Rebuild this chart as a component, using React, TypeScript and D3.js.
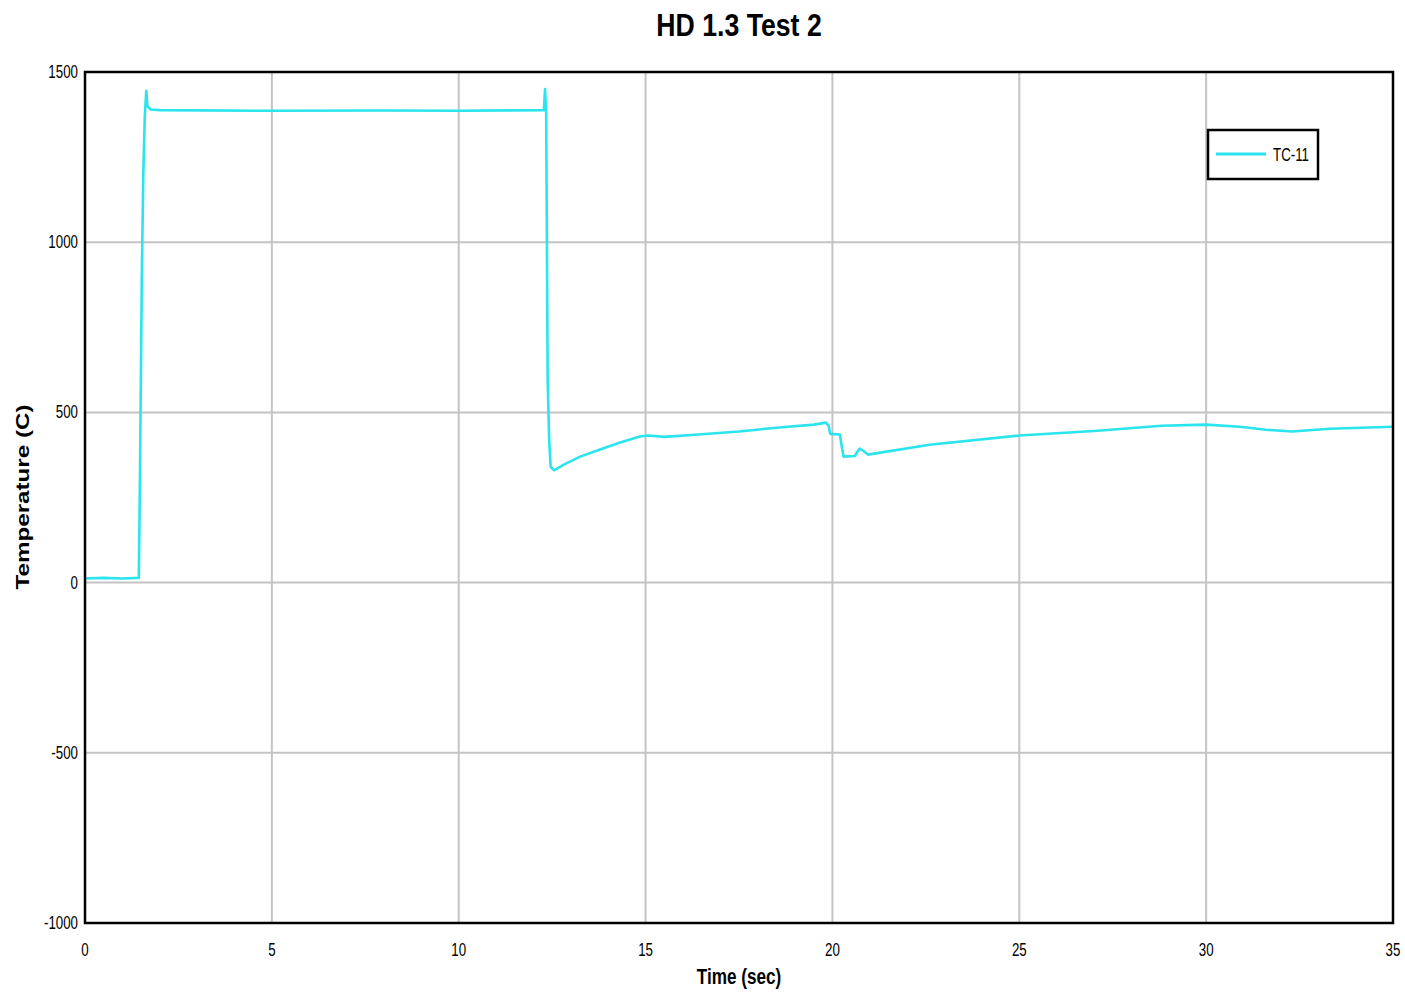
import React from "react";
import * as d3 from "d3";

const timeSec: number[] = [
  0, 0.5, 1.0, 1.44, 1.47, 1.52, 1.56, 1.6, 1.64, 1.67, 1.75, 2.0, 5.0, 8.0, 10.0, 12.28,
  12.31, 12.34, 12.36, 12.38, 12.42, 12.46, 12.55, 12.8, 13.25, 13.78, 14.3, 14.85, 15.07,
  15.5, 16.5, 17.5, 18.5, 19.5, 19.83, 19.9, 19.94, 20.2, 20.25, 20.3, 20.6, 20.7, 20.73,
  20.85, 20.95, 22.6, 25.0, 27.1, 28.8, 30.0, 30.9, 31.6, 32.3, 33.3, 35.0,
];
const tc11: number[] = [
  12, 14, 12, 14, 300, 900, 1200, 1370, 1445, 1400, 1390, 1388, 1386, 1387, 1386, 1388,
  1450, 1380, 1000, 600, 420, 340, 330, 346, 370, 391, 411, 429, 432,
  428, 436, 444, 455, 464, 470, 460, 437, 435, 400, 370, 372, 390, 394,
  385, 376, 405, 432, 446, 461, 464, 458, 449, 444, 452, 458,
];
const xTicks: number[] = [0, 5, 10, 15, 20, 25, 30, 35];
const yTicks: number[] = [-1000, -500, 0, 500, 1000, 1500];
const seriesName = "TC-11";
const title = "HD 1.3 Test 2";
const xLabel = "Time (sec)";
const yLabel = "Temperature (C)";

const W = 1405;
const H = 997;
const left = 85;
const right = 1393;
const top = 72;
const bottom = 923;
const font = "'Liberation Sans', Arial, sans-serif";
const lineColor = "#2ae4ee";

function NarrowText(props: {
  x: number;
  y: number;
  size: number;
  sx: number;
  anchor: "start" | "middle" | "end";
  bold?: boolean;
  children: React.ReactNode;
}) {
  return (
    <g transform={`translate(${props.x},${props.y}) scale(${props.sx},1)`}>
      <text
        x={0}
        y={0}
        textAnchor={props.anchor}
        fontFamily={font}
        fontSize={props.size}
        fontWeight={props.bold ? "bold" : "normal"}
        fill="#000"
      >
        {props.children}
      </text>
    </g>
  );
}

export default function App() {
  const x = d3.scaleLinear().domain([0, 35]).range([left, right]);
  const y = d3.scaleLinear().domain([-1000, 1500]).range([bottom, top]);
  const data = timeSec.map((t, i) => [t, tc11[i]] as [number, number]);
  const path = d3
    .line<[number, number]>()
    .x((d) => x(d[0]))
    .y((d) => y(d[1]))(data) as string;

  return (
    <svg
      width={W}
      height={H}
      style={{ position: "absolute", left: 0, top: 0, background: "#fff" }}
    >
      <rect x={0} y={0} width={W} height={H} fill="#fff" />
      {xTicks.map((t) => (
        <line key={"gx" + t} x1={x(t)} x2={x(t)} y1={top} y2={bottom} stroke="#c4c4c4" strokeWidth={2} />
      ))}
      {yTicks.map((v) => (
        <line key={"gy" + v} x1={left} x2={right} y1={y(v)} y2={y(v)} stroke="#c4c4c4" strokeWidth={2} />
      ))}
      <path d={path} fill="none" stroke={lineColor} strokeWidth={2.6} strokeLinejoin="round" />
      <rect x={left} y={top} width={right - left} height={bottom - top} fill="none" stroke="#000" strokeWidth={2.5} />
      {xTicks.map((t) => (
        <NarrowText key={"tx" + t} x={x(t)} y={956} size={18} sx={0.74} anchor="middle">
          {t}
        </NarrowText>
      ))}
      {yTicks.map((v) => (
        <NarrowText key={"ty" + v} x={78} y={y(v) + 6} size={18} sx={0.74} anchor="end">
          {v}
        </NarrowText>
      ))}
      <NarrowText x={739} y={36} size={31} sx={0.86} anchor="middle" bold>
        {title}
      </NarrowText>
      <NarrowText x={739} y={984} size={22} sx={0.78} anchor="middle" bold>
        {xLabel}
      </NarrowText>
      <text
        transform={`translate(29,497) rotate(-90)`}
        textAnchor="middle"
        fontFamily={font}
        fontWeight="bold"
        fontSize={19}
        textLength={185}
        lengthAdjust="spacingAndGlyphs"
        fill="#000"
      >
        {yLabel}
      </text>
      <rect x={1208} y={130} width={110} height={49} fill="#fff" stroke="#000" strokeWidth={2.5} />
      <line x1={1216} x2={1266} y1={154} y2={154} stroke={lineColor} strokeWidth={3} />
      <NarrowText x={1273} y={161} size={18} sx={0.74} anchor="start">
        {seriesName}
      </NarrowText>
    </svg>
  );
}
